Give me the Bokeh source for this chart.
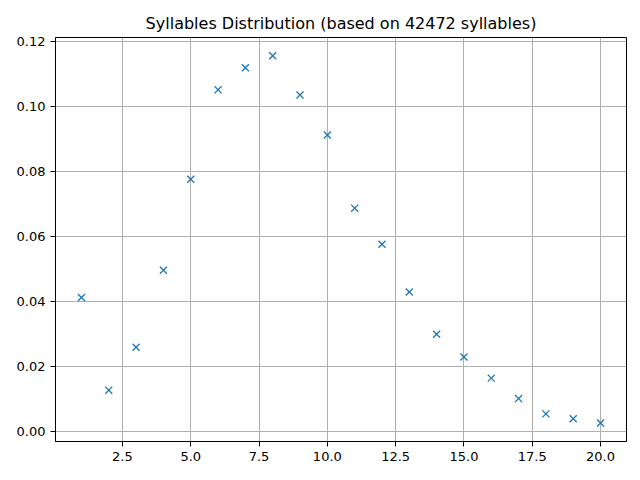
from bokeh.plotting import figure
from bokeh.models import FixedTicker, PrintfTickFormatter, Range1d
from bokeh.embed import file_html
from bokeh.resources import INLINE

# syllables per word and their share
syllables = list(range(1, 21))
shares = [0.0413, 0.0128, 0.0260, 0.0497, 0.0777, 0.1052, 0.1120, 0.1157, 0.1036, 0.0913,
          0.0688, 0.0577, 0.0430, 0.0300, 0.0230, 0.0165, 0.0102, 0.0055, 0.0040, 0.0027]
x_ticks = [2.5, 5.0, 7.5, 10.0, 12.5, 15.0, 17.5, 20.0]
y_ticks = [0.0, 0.02, 0.04, 0.06, 0.08, 0.10, 0.12]

p = figure(width=632, height=472, output_backend="svg", toolbar_location=None,
           title="Syllables Distribution (based on 42472 syllables)",
           x_range=Range1d(0.05, 20.95), y_range=Range1d(-0.003, 0.1213),
           min_border_left=55, min_border_right=6, min_border_top=37, min_border_bottom=31)

p.scatter(syllables, shares, marker="x", size=10, line_color="#1f77b4", line_width=1.3)

p.title.align = "center"
p.title.text_font = "DejaVu Sans"
p.title.text_font_size = "16px"
p.title.text_font_style = "normal"
p.title.text_color = "black"

p.xaxis.ticker = FixedTicker(ticks=x_ticks)
p.yaxis.ticker = FixedTicker(ticks=y_ticks)
p.xaxis.formatter = PrintfTickFormatter(format="%.1f")
p.yaxis.formatter = PrintfTickFormatter(format="%.2f")
for ax in (p.xaxis, p.yaxis):
    ax.major_label_text_font = "DejaVu Sans"
    ax.major_label_text_font_size = "13px"
    ax.major_label_text_color = "black"
    ax.axis_line_color = "black"
    ax.major_tick_line_color = "black"
    ax.major_tick_out = 5
    ax.major_tick_in = 0
    ax.minor_tick_line_color = None
p.grid.grid_line_color = "#b0b0b0"
p.grid.grid_line_width = 1
p.outline_line_color = "black"
p.outline_line_alpha = 1

open("out.html", "w").write(file_html(p, INLINE))
